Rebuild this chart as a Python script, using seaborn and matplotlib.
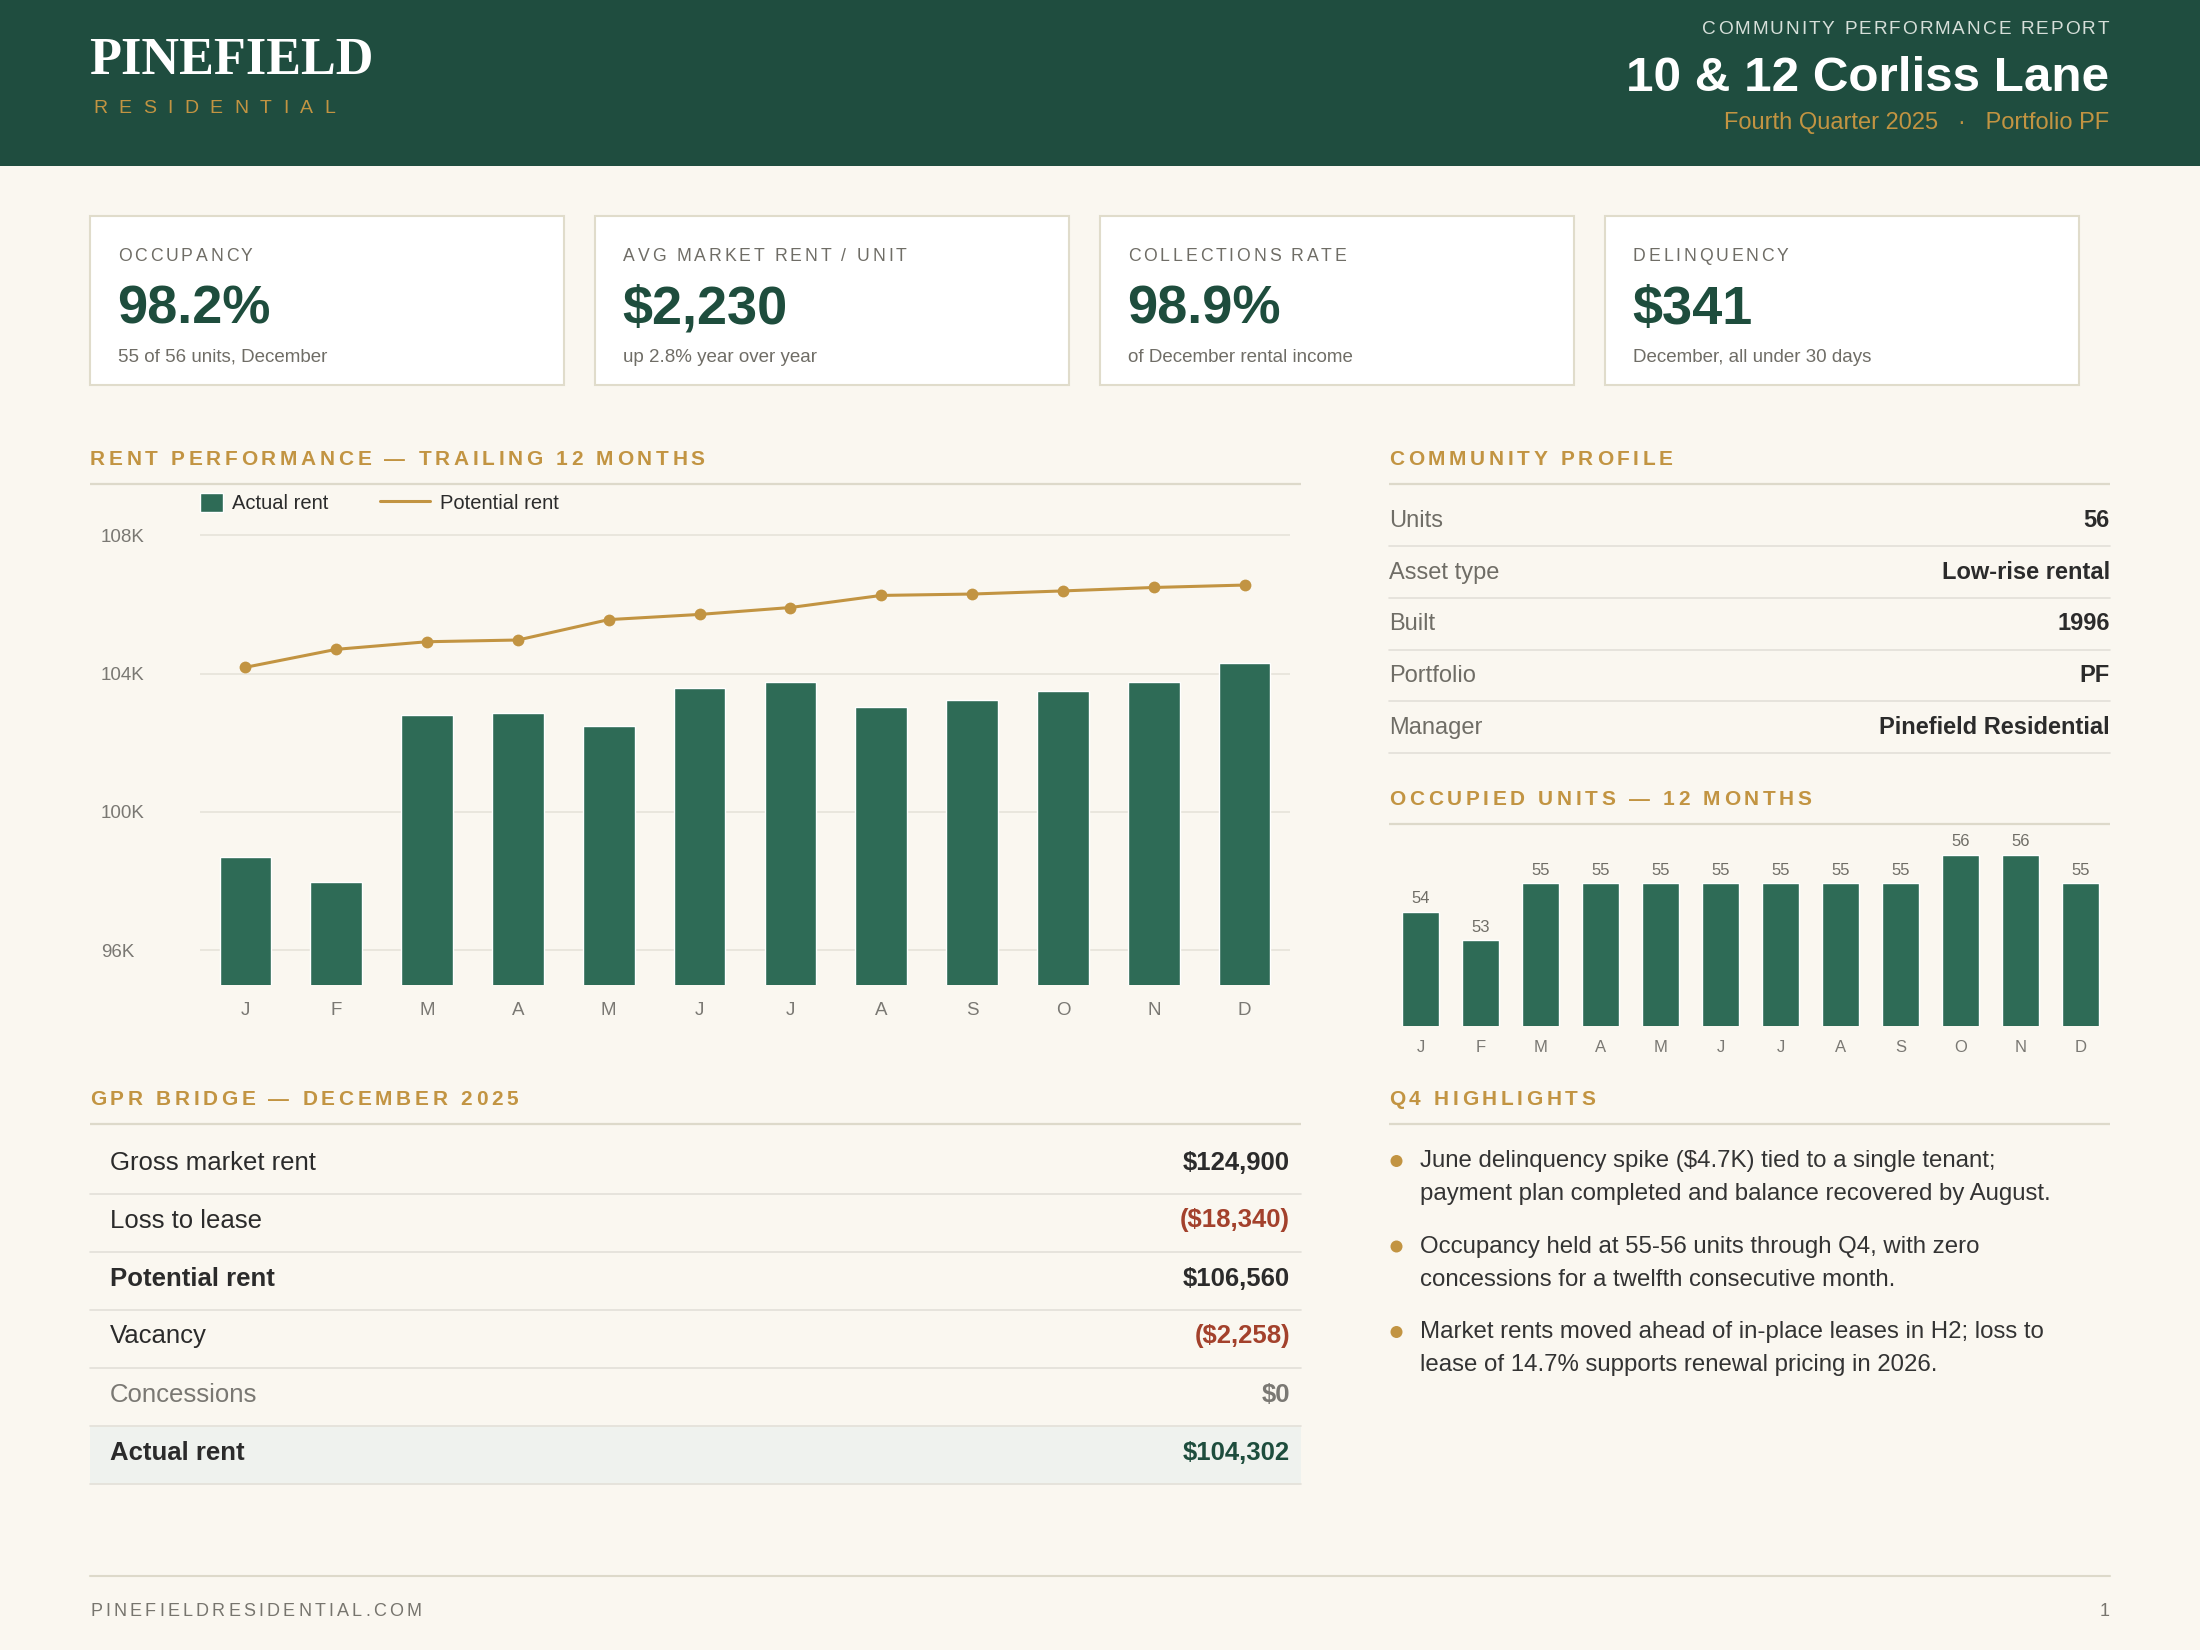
import matplotlib
matplotlib.use("Agg")
import matplotlib.pyplot as plt
import seaborn as sns
from matplotlib.patches import Rectangle, Circle, Patch
from matplotlib.lines import Line2D
from matplotlib.font_manager import FontProperties

# ---- data ----
months = ["Jan", "Feb", "Mar", "Apr", "May", "Jun", "Jul", "Aug", "Sep", "Oct", "Nov", "Dec"]
month_letters = ["J", "F", "M", "A", "M", "J", "J", "A", "S", "O", "N", "D"]
actual_rent = [98690, 97960, 102800, 102860, 102480, 103590, 103750, 103030, 103240, 103490, 103750, 104302]
potential_rent = [104180, 104700, 104920, 104970, 105560, 105710, 105910, 106260, 106300, 106390, 106490, 106560]
rent_ticks = [96000, 100000, 104000, 108000]
rent_tick_labels = ["96K", "100K", "104K", "108K"]
occupied_units = [54, 53, 55, 55, 55, 55, 55, 55, 55, 56, 56, 55]

kpi_labels = ["OCCUPANCY", "AVG MARKET RENT / UNIT", "COLLECTIONS RATE", "DELINQUENCY"]
kpi_values = ["98.2%", "$2,230", "98.9%", "$341"]
kpi_notes = ["55 of 56 units, December", "up 2.8% year over year",
             "of December rental income", "December, all under 30 days"]

profile_labels = ["Units", "Asset type", "Built", "Portfolio", "Manager"]
profile_values = ["56", "Low-rise rental", "1996", "PF", "Pinefield Residential"]

gpr_labels = ["Gross market rent", "Loss to lease", "Potential rent", "Vacancy", "Concessions", "Actual rent"]
gpr_values = ["$124,900", "($18,340)", "$106,560", "($2,258)", "$0", "$104,302"]
gpr_kinds = ["normal", "negative", "subtotal", "negative", "muted", "total"]

highlights = [
    ["June delinquency spike ($4.7K) tied to a single tenant;",
     "payment plan completed and balance recovered by August."],
    ["Occupancy held at 55-56 units through Q4, with zero",
     "concessions for a twelfth consecutive month."],
    ["Market rents moved ahead of in-place leases in H2; loss to",
     "lease of 14.7% supports renewal pricing in 2026."],
]

# ---- colours ----
HEADER = "#1F4D3F"
DEEP = "#1E4D3D"
BAR = "#2E6B56"
GOLD = "#C29442"
BG = "#FAF7F0"
RULE = "#DDD9CA"
GRID = "#E6E3DA"
LINE = "#E3E0D8"
TEXT = "#2B2B2B"
MUTED = "#6F6D66"
AXIS = "#7A7873"
RED = "#A3412C"

sns.set_theme(style="white")
plt.rcParams["font.family"] = ["Liberation Sans", "DejaVu Sans"]
SANS = ["Liberation Sans", "DejaVu Sans"]

W, H = 2200, 1650
fig = plt.figure(figsize=(22, 16.5), dpi=100, facecolor=BG)
bg = fig.add_axes([0, 0, 1, 1])
bg.set_xlim(0, W)
bg.set_ylim(H, 0)
bg.axis("off")
renderer = fig.canvas.get_renderer()


def px_axes(left, top, right, bottom):
    return fig.add_axes([left / W, 1 - bottom / H, (right - left) / W, (bottom - top) / H])


def text_width(s, fp):
    w, _, _ = renderer.get_text_width_height_descent(s, fp, ismath=False)
    return w


def tracked(x, y, s, size, color, weight="normal", track=0.0, ha="left"):
    # letter-spaced text, drawn char by char on the baseline
    fp = FontProperties(family=SANS, size=size, weight=weight)
    base = text_width("xx", fp)
    advs = [text_width("x" + c + "x", fp) - base for c in s]
    total = sum(advs) + track * (len(s) - 1)
    if ha == "right":
        x -= total
    for c, a in zip(s, advs):
        if c != " ":
            bg.text(x, y, c, fontproperties=fp, color=color, va="baseline", ha="left")
        x += a + track


def section(title, x0, x1, baseline):
    tracked(x0, baseline, title, 15, GOLD, weight="bold", track=3.7)
    bg.plot([x0, x1], [baseline + 19, baseline + 19], color=RULE, lw=1.6, solid_capstyle="butt")


# ---- header ----
bg.add_patch(Rectangle((0, 0), W, 166, color=HEADER, lw=0))
bg.text(89, 74, "PINEFIELD", family=["Liberation Serif", "DejaVu Serif"], weight="bold",
        size=37.6, color="white", va="baseline")
tracked(93, 113, "RESIDENTIAL", 14, GOLD, track=11.4)
tracked(2109, 34.3, "COMMUNITY PERFORMANCE REPORT", 13.7, "#D6DFD9", track=2, ha="right")
bg.text(2109, 91, "10 & 12 Corliss Lane", size=35.6, weight="bold", color="white",
        ha="right", va="baseline")
bg.text(2109, 128.5, "Fourth Quarter 2025   \u00b7   Portfolio PF", size=17, color=GOLD,
        ha="right", va="baseline")

# ---- KPI cards ----
for i in range(4):
    left = 90 + i * 505
    bg.add_patch(Rectangle((left, 215.5), 474, 169, facecolor="white", edgecolor="#E0DCCB", lw=1.5))
    tracked(left + 28, 261, kpi_labels[i], 12.7, MUTED, track=2.8)
    bg.text(left + 27, 324, kpi_values[i], size=39, weight="bold", color=DEEP, va="baseline")
    bg.text(left + 28, 361.5, kpi_notes[i], size=13.5, color=MUTED, va="baseline")

# ---- section headings ----
section("RENT PERFORMANCE \u2014 TRAILING 12 MONTHS", 90, 1301, 465)
section("COMMUNITY PROFILE", 1389, 2110, 465)
section("OCCUPIED UNITS \u2014 12 MONTHS", 1389, 2110, 805)
section("GPR BRIDGE \u2014 DECEMBER 2025", 90, 1301, 1105)
section("Q4 HIGHLIGHTS", 1389, 2110, 1105)

# ---- rent performance chart ----
ax = px_axes(200, 518, 1290, 984.6)
ax.set_facecolor("none")
sns.barplot(x=months, y=actual_rent, color=BAR, width=0.57, saturation=1, errorbar=None, ax=ax)
pos = ax.get_xticks()
sns.lineplot(x=pos, y=potential_rent, color=GOLD, lw=2.2, marker="o", markersize=8.5,
             markeredgewidth=0, ax=ax)
ax.set_ylim(95000, 108500)
ax.set_xlim(-0.5, 11.5)
ax.set_yticks(rent_ticks, rent_tick_labels)
ax.set_xticks(pos, month_letters)
ax.grid(axis="y", color=GRID, lw=1.2)
ax.set_axisbelow(True)
sns.despine(ax=ax, left=True, bottom=True)
ax.tick_params(axis="y", length=0, pad=71.5, labelsize=13.5, labelcolor=AXIS)
ax.tick_params(axis="x", length=0, pad=12.5, labelsize=13.5, labelcolor=AXIS)
for lab in ax.get_yticklabels():
    lab.set_horizontalalignment("left")
ax.set_xlabel("")
ax.set_ylabel("")

fig.legend(handles=[Patch(facecolor=BAR, label="Actual rent")], loc="center left",
           bbox_to_anchor=(200 / W, 1 - 503 / H), frameon=False, fontsize=14.5,
           handlelength=1.14, handleheight=1.14, handletextpad=0.45,
           borderpad=0, borderaxespad=0, labelcolor=TEXT)
fig.legend(handles=[Line2D([], [], color=GOLD, lw=2.2, label="Potential rent")], loc="center left",
           bbox_to_anchor=(380 / W, 1 - 503 / H), frameon=False, fontsize=14.5,
           handlelength=2.5, handletextpad=0.5, borderpad=0, borderaxespad=0, labelcolor=TEXT)

# ---- occupied units chart ----
ax2 = px_axes(1390.6, 826.5, 2110.5, 1025.7)
ax2.set_facecolor("none")
sns.barplot(x=months, y=occupied_units, color=BAR, width=0.61, saturation=1, errorbar=None, ax=ax2)
ax2.bar_label(ax2.containers[0], padding=4, fontsize=12, color=MUTED)
ax2.set_ylim(50, 57)
ax2.set_xlim(-0.5, 11.5)
ax2.set_xticks(ax2.get_xticks(), month_letters)
ax2.set_yticks([])
sns.despine(ax=ax2, left=True, bottom=True)
ax2.tick_params(axis="x", length=0, pad=10, labelsize=12, labelcolor=AXIS)
ax2.set_xlabel("")
ax2.set_ylabel("")

# ---- community profile ----
for i, (lab, val) in enumerate(zip(profile_labels, profile_values)):
    bottom = 545.7 + 51.9 * i
    bg.text(1389, bottom - 19, lab, size=17, color=MUTED, va="baseline")
    bg.text(2110, bottom - 19, val, size=17, weight="bold", color=TEXT, va="baseline", ha="right")
    bg.plot([1389, 2110], [bottom, bottom], color=LINE, lw=1.2)

# ---- GPR bridge table ----
for i, (lab, val, kind) in enumerate(zip(gpr_labels, gpr_values, gpr_kinds)):
    top = 1135.5 + 58 * i
    if kind == "total":
        bg.add_patch(Rectangle((90, top), 1211, 58, facecolor="#EFF2EE", lw=0))
    lab_color, val_color = TEXT, TEXT
    lab_weight = "bold" if kind in ("subtotal", "total") else "normal"
    if kind == "negative":
        val_color = RED
    elif kind == "muted":
        lab_color, val_color = AXIS, AXIS
    elif kind == "total":
        val_color = DEEP
    bg.text(110, top + 34, lab, size=18.5, weight=lab_weight, color=lab_color, va="baseline")
    bg.text(1290, top + 34, val, size=18.5, weight="bold", color=val_color, va="baseline", ha="right")
    bg.plot([90, 1301], [top + 58, top + 58], color=LINE, lw=1.2)

# ---- highlights ----
for i, lines in enumerate(highlights):
    base = 1167 + 85.5 * i
    bg.add_patch(Circle((1396.5, base - 6), 6, color=GOLD, lw=0))
    for j, line in enumerate(lines):
        bg.text(1420, base + 33.2 * j, line, size=17.25, color="#333333", va="baseline")

# ---- footer ----
bg.plot([90, 2110], [1575.7, 1575.7], color=RULE, lw=1.5)
tracked(90, 1616, "PINEFIELDRESIDENTIAL.COM", 13, "#77756E", track=3.2)
bg.text(2110, 1616, "1", size=13, color="#77756E", ha="right", va="baseline")

fig.savefig("out.png", dpi=100, facecolor=BG)
